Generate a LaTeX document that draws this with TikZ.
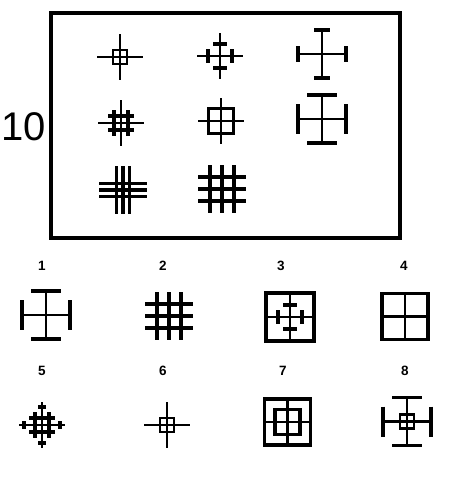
\documentclass[tikz,border=0pt]{standalone}
\usepackage{fontspec}
\setmainfont{Liberation Sans}

\begin{document}
\begin{tikzpicture}[x=1pt, y=-1pt,
    hair/.style={line width=2.6pt},
    bar/.style={line width=3.4pt},
    lbl/.style={font=\fontsize{13.5}{15}\selectfont\bfseries},
    pics/cross/.style={code={\draw[hair] (-#1,0) -- (#1,0) (0,-#1) -- (0,#1);}},
    pics/endbars/.style={code={
      \draw[bar] (-#1,-24) -- (#1,-24) (-#1,24) -- (#1,24)
                 (-24,-#1) -- (-24,#1) (24,-#1) -- (24,#1);}},
    pics/ticks/.style={code={
      \draw[bar] (-7,-12) -- (7,-12) (-7,12) -- (7,12)
                 (-12,-7) -- (-12,7) (12,-7) -- (12,7);}},
    pics/hash/.style={code={
      \draw[bar] (-7,-13) -- (-7,13) (7,-13) -- (7,13)
                 (-13,-7) -- (13,-7) (-13,7) -- (13,7);}},
    pics/grid/.style={code={
      \foreach \d in {-#1,0,#1}{\draw[bar] (\d,-24) -- (\d,24) (-24,\d) -- (24,\d);}}},
    pics/minibox/.style={code={\draw[line width=2.8pt] (-#1,-#1) rectangle (#1,#1);}}
]
\useasboundingbox (0,0) rectangle (448,480);

% the puzzle frame
\draw[bar] (51,13) rectangle (400,238);
\node[font=\fontsize{40}{42}\selectfont, inner sep=0pt] (num) at (23.5,126.5) {10};

% row 1
\pic at (120,57) {cross=23};
\pic at (120,57) {minibox=7};
\pic at (220,56) {cross=23};
\pic at (220,56) {ticks};
\pic at (322,54) {cross=24};
\pic at (322,54) {endbars=8};
% row 2
\pic at (121,123) {cross=23};
\pic at (121,123) {hash};
\pic at (221,121) {cross=23};
\draw[bar] (208.5,108.5) rectangle (233.5,133.5);
\pic at (322,119) {cross=24};
\pic at (322,119) {endbars=15};
% row 3
\pic at (123,190) {grid=6.5};
\pic at (222,189) {grid=12};

% answers
\node[lbl] (l1) at (42,266) {1};
\node[lbl] (l2) at (163,266) {2};
\node[lbl] (l3) at (281,266) {3};
\node[lbl] (l4) at (404,266) {4};
\node[lbl] (l5) at (42,371) {5};
\node[lbl] (l6) at (163,371) {6};
\node[lbl] (l7) at (283,371) {7};
\node[lbl] (l8) at (405,371) {8};

\pic at (46,315) {cross=24};
\pic at (46,315) {endbars=15};
\pic at (169,316) {grid=12};
\pic at (290,317) {cross=24};
\pic at (290,317) {ticks};
\draw[bar] (266,293) rectangle (314,341);
\pic at (405,316.5) {cross=23};
\draw[bar] (382,293.5) rectangle (428,339.5);

\pic at (42,425) {cross=23};
\pic at (42,425) {hash};
\draw[bar] (38,407) -- (46,407) (38,443) -- (46,443)
           (24,421) -- (24,429) (60,421) -- (60,429);
\pic at (167,425) {cross=23};
\pic at (167,425) {minibox=7};
\pic at (287.5,422) {cross=23};
\draw[bar] (264.5,399) rectangle (310.5,445);
\draw[bar] (275,409.5) rectangle (300,434.5);
\pic at (407,421.5) {cross=24};
\pic at (407,421.5) {endbars=15};
\pic at (407,421.5) {minibox=7};
\end{tikzpicture}
\end{document}
